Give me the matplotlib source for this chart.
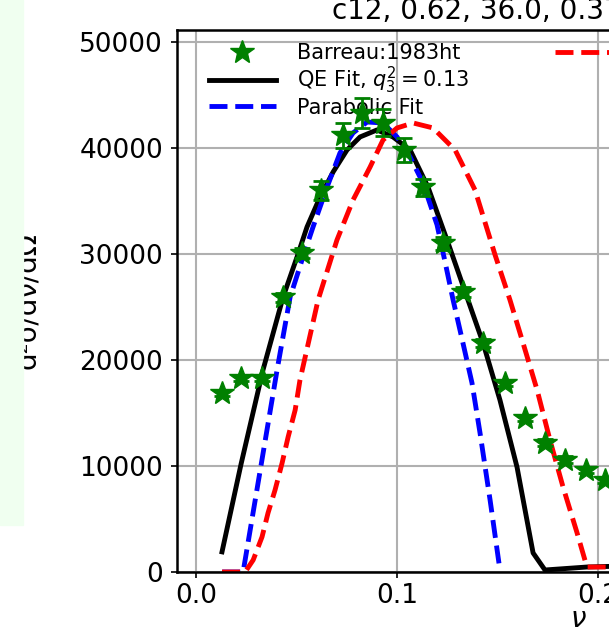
import matplotlib.pyplot as plt
from matplotlib.patches import Rectangle

# Barreau:1983ht data (nu, cross section, error)
nu_data = [0.013, 0.0225, 0.0328, 0.0433, 0.0527, 0.062, 0.073, 0.0826, 0.093,
           0.1035, 0.113, 0.1229, 0.1328, 0.143, 0.1537, 0.1637, 0.1736, 0.1836,
           0.194, 0.2035]
xs_data = [16900, 18300, 18300, 25900, 30100, 36000, 41200, 43300, 42400,
           39800, 36300, 31000, 26400, 21600, 17800, 14500, 12200, 10600,
           9600, 8700]
xs_err = [300, 300, 300, 400, 500, 900, 1200, 1400, 1300,
          1100, 800, 600, 500, 400, 300, 300, 300, 300, 300, 300]

# QE fit
nu_qe = [0.0129, 0.0224, 0.0333, 0.0433, 0.0502, 0.0552, 0.0617, 0.0682, 0.0751,
         0.0816, 0.090, 0.098, 0.1065, 0.1154, 0.1254, 0.1353, 0.1428,
         0.1512, 0.1597, 0.1677, 0.1736, 0.1945, 0.22]
xs_qe = [1900, 10200, 19060, 25940, 29700, 32550, 35380, 37740, 39810,
         41040, 41700, 41040, 39810, 36320, 31040, 25660, 21600,
         16230, 9900, 1800, 190, 470, 600]

# parabolic fit
nu_par = [0.013, 0.0234, 0.0403, 0.0468, 0.0532, 0.0582, 0.0652, 0.0716, 0.0781,
          0.0851, 0.093, 0.100, 0.1065, 0.1129, 0.1199, 0.1239, 0.1279, 0.1328,
          0.1373, 0.1413, 0.1463, 0.1512]
xs_par = [0, 0, 19060, 25940, 29720, 32550, 36320, 39530, 41420,
          42450, 42360, 41040, 39150, 36700, 32750, 29250, 25660, 21600,
          17830, 13110, 6790, 190]

# red curve
nu_red = [0.0129, 0.0244, 0.0284, 0.0328, 0.0358, 0.0393, 0.0428, 0.0458, 0.0493,
          0.0517, 0.0607, 0.0701, 0.0781, 0.0866, 0.093, 0.100, 0.108, 0.1179,
          0.1289, 0.1388, 0.1488, 0.1562, 0.1627, 0.1697, 0.1761, 0.1826, 0.1896,
          0.1945, 0.1975, 0.22]
xs_red = [0, 0, 1130, 3300, 5570, 7740, 10280, 12740, 15280,
          18110, 25660, 31320, 35090, 38210, 40750, 41890, 42360, 41890,
          39810, 36040, 29900, 25660, 21600, 17170, 12450, 8020, 3680,
          470, 470, 470]

fig = plt.figure(figsize=(6.09, 6.27), dpi=100)
ax = fig.add_axes([177/609, 55/627, 802/609, 542/627])

ax.errorbar(nu_data, xs_data, yerr=xs_err, fmt='none', ecolor='green',
            elinewidth=2, capsize=6, capthick=2, zorder=3)
ax.plot(nu_data, xs_data, '*', color='green', ms=18, label='Barreau:1983ht', zorder=3)
ax.plot(nu_qe, xs_qe, '-', color='black', lw=3.5, label=r'QE Fit, $q_3^2 = 0.13$')
ax.plot(nu_par, xs_par, '--', color='blue', lw=3.5, label='Parabolic Fit')
red, = ax.plot(nu_red, xs_red, '--', color='red', lw=3.5, label='RFG')

ax.set_xlim(-0.0095, 0.3896)
ax.set_ylim(0, 51130)
ax.set_xticks([0.0, 0.1, 0.2, 0.3])
ax.set_xticklabels(['0.0', '0.1', '0.2', '0.3'])
ax.set_yticks([0, 10000, 20000, 30000, 40000, 50000])
ax.tick_params(labelsize=19, length=4, width=1.2, pad=6)
ax.tick_params(axis='x', pad=4)
ax.grid(True, color='#b0b0b0', lw=1.5)
for s in ax.spines.values():
    s.set_linewidth(1.8)

ax.set_xlabel(r'$\nu$', fontsize=20, labelpad=-3)
ax.set_ylabel('d²σ/dν/dΩ', fontsize=20)
ax.yaxis.set_label_coords(-0.1696, 0.5)

ax.text(0.193, 1.02, 'c12, 0.62, 36.0, 0.37 GeV', transform=ax.transAxes,
        fontsize=20, ha='left', va='baseline')

handles, labels = ax.get_legend_handles_labels()
leg1 = ax.legend(handles[:3], labels[:3], frameon=False, fontsize=15,
                 loc='upper left', bbox_to_anchor=(0.040, 0.976), borderpad=0,
                 handlelength=3.2, handletextpad=1.0, labelspacing=0.08,
                 borderaxespad=0)
leg1.set_zorder(1.8)
ax.add_artist(leg1)
leg2 = ax.legend([red], ['RFG'], frameon=False, fontsize=15,
                 loc='upper left', bbox_to_anchor=(0.471, 0.976), borderpad=0,
                 handlelength=3.2, handletextpad=1.0, borderaxespad=0)
leg2.set_zorder(1.8)

# light green strip at the left edge
fig.add_artist(Rectangle((0, 102/627), 23/609, 525/627, transform=fig.transFigure,
                         color='#f0fff0', zorder=10))

fig.savefig('out.png', dpi=100)
